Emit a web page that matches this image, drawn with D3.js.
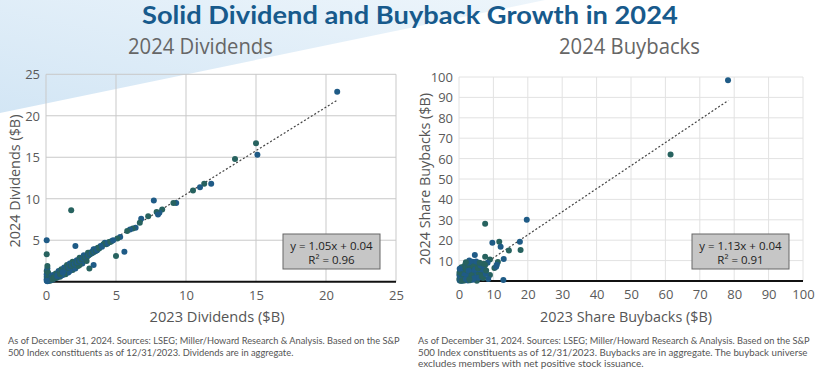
<!DOCTYPE html>
<html>
<head>
<meta charset="UTF-8">
<title>Solid Dividend and Buyback Growth in 2024</title>
<script src="https://d3js.org/d3.v7.min.js"></script>
<style>
  body { margin: 0; background: #fff; }
  text { font-family: "Open Sans", sans-serif; }
</style>
</head>
<body>
<div id="chart"></div>
<script>
// 2023 vs 2024 dividends, $B  [x = 2023, y = 2024]
var dividendPoints = [
  [20.8,22.9],[15.0,16.7],[15.1,15.3],[13.5,14.8],[11.8,11.8],[11.3,11.8],[11.0,11.4],[10.5,11.0],
  [9.3,9.5],[9.1,9.5],[7.7,9.8],[8.3,8.7],[8.1,8.3],[7.9,8.4],[8.0,8.1],[7.3,7.9],[6.8,7.6],[6.7,7.1],
  [6.4,6.5],[6.2,6.4],[6.0,6.3],[5.8,6.1],[5.3,5.4],[5.1,5.2],[4.7,4.9],[4.5,4.8],[4.2,4.7],[4.1,4.5],
  [3.9,4.3],[3.7,4.1],[3.6,3.8],[3.5,3.9],[3.3,3.6],[3.2,3.4],[3.1,3.5],[3.0,3.2],[2.9,3.1],[2.8,3.0],
  [2.7,2.8],[2.6,2.9],[2.5,2.6],[2.4,2.7],[2.3,2.5],[2.2,2.3],[2.1,2.4],[2.0,2.2],[1.9,2.1],[1.8,2.0],
  [1.7,1.8],[1.6,1.9],[1.5,1.6],[1.4,1.5],[1.3,1.5],[1.2,1.3],[1.1,1.2],[1.0,1.1],[0.9,1.0],[0.8,0.9],
  [0.7,0.8],[0.6,0.7],[0.5,0.6],[0.4,0.5],[0.3,0.3],[0.2,0.2],[0.1,0.1],
  [1.8,8.6],[0.05,5.0],[0.05,3.3],[2.1,4.3],[5.0,3.1],[5.6,3.6],[3.1,1.6],[3.4,2.0],
  [0.05,0.6],[0.05,0.9],[0.05,1.3],[0.1,1.6],[0.1,1.9],[0.05,0.3],[0.15,1.1],
  [0.4,0.2],[0.6,0.4],[0.8,0.5],[1.0,0.6],[1.2,0.8],[1.4,0.9],[1.6,1.1],[1.9,1.4],[2.1,1.6],[2.3,1.9],
  [2.6,2.2],[2.9,2.5],[0.9,0.7],[1.3,1.0],[1.7,1.3],[2.4,2.0],[0.5,0.3],[0.7,0.45],[1.1,0.75],
  [0.3,0.6],[0.5,0.8],[0.7,1.0],[0.9,1.3],[1.1,1.5],[1.3,1.7],[1.5,2.0],[1.7,2.2],[1.9,2.4],[2.2,2.6],
  [2.4,2.9],[2.7,3.2],[3.0,3.5],[3.4,3.9],[0.2,0.5],[0.4,0.7],
  [0.15,0.15],[0.25,0.35],[0.35,0.4],[0.45,0.45],[0.55,0.55],[0.65,0.7],[0.75,0.75],[0.85,0.85],
  [0.95,1.05],[1.05,1.1],[1.15,1.25],[1.25,1.3],[1.35,1.4],[1.45,1.55],[1.55,1.65],[1.65,1.75],
  [1.75,1.9],[1.85,2.0],[1.95,2.05],[2.05,2.15],[2.15,2.25],[2.25,2.35],[2.35,2.45],[2.45,2.55],
  [2.55,2.7],[2.65,2.8],[2.75,2.9],[2.85,3.0],[2.95,3.05],[3.05,3.2],[3.15,3.3],[3.25,3.4],
  [3.35,3.5],[3.45,3.6],[3.55,3.7],[3.65,3.8],[3.8,4.0],[4.0,4.2],[4.3,4.5],[4.4,4.6],[4.6,4.8],[4.8,5.0],
  [0.1,0.3],[0.2,0.1],[0.3,0.1],[0.1,0.05],[0.25,0.2],[0.35,0.25],[0.45,0.3],[0.05,0.1],
  [0.6,0.5],[0.8,0.7],[1.0,0.9],[1.2,1.1]
];

// 2023 vs 2024 share buybacks, $B
var buybackPoints = [
  [78.2,98.4],[61.5,62.0],[19.7,30.0],[7.6,28.1],[9.7,18.8],[11.7,19.3],[12.1,16.8],[14.5,14.9],
  [17.7,19.3],[17.9,15.2],[13.0,10.8],[11.3,9.3],[11.0,8.0],[10.3,6.4],[10.8,7.0],[9.0,10.6],
  [8.3,9.0],[7.6,11.9],[4.6,12.8],[9.0,2.9],[12.9,0.5],[5.2,0.1],[8.5,1.0],[7.0,1.5],
  [0.2,0.3],[0.5,1.2],[0.8,2.5],[1.0,0.5],[1.2,3.8],[1.5,1.8],[1.7,5.0],[2.0,2.9],[2.2,0.8],
  [2.4,4.4],[2.6,6.0],[2.8,2.2],[3.0,3.5],[3.2,5.2],[3.4,1.2],[3.6,7.0],[3.8,4.0],[4.0,2.6],
  [4.2,5.8],[4.4,8.6],[4.6,3.2],[4.8,6.4],[5.0,4.6],[5.2,7.4],[5.4,2.0],[5.6,5.4],[5.8,8.0],
  [6.0,3.8],[6.2,6.6],[6.5,5.0],[6.8,7.2],[7.0,4.2],[7.3,6.0],[7.6,7.8],[0.3,2.0],[0.6,3.4],
  [0.9,4.6],[1.1,6.2],[1.4,7.0],[1.8,8.0],[2.1,6.8],[2.5,7.6],[2.9,8.8],[3.3,6.4],[3.9,9.4],
  [4.3,7.2],[0.4,5.0],[0.7,6.8],[1.3,2.6],[1.9,4.0],[2.3,1.6],[2.7,3.6],[3.1,2.4],[3.5,4.8],
  [3.9,1.8],[4.1,3.6],[4.5,4.8],[4.9,2.8],[5.3,3.6],[5.7,4.2],[6.1,5.6],[6.4,3.0],[6.9,5.6],
  [0.1,1.0],[0.1,3.0],[0.15,4.2],[0.2,6.0],[0.5,0.1],[1.0,0.1],[1.6,0.2],[2.6,0.3],[3.2,0.4],
  [4.0,0.6],[0.9,1.6],[1.6,3.0],[2.2,5.4],[2.8,5.0],[3.6,2.8],[4.7,5.6],[5.5,6.2],[6.3,7.6],
  [7.2,8.4],[5.0,9.6],[6.0,9.0],[3.0,10.0],[2.0,9.2],[4.4,1.4],[1.2,1.0],[0.4,0.6],[0.8,0.3],
  [2.0,1.0],[3.0,0.9],[5.8,1.6],[6.6,2.2],[7.8,3.4],[7.9,5.2]
];

var dividendTicks = [0, 5, 10, 15, 20, 25];
var buybackTicks = [0, 10, 20, 30, 40, 50, 60, 70, 80, 90, 100];

// regression lines: [slope, intercept, r2, x end]
var dividendFit = [1.05, 0.04, 0.96, 20.8];
var buybackFit = [1.13, 0.04, 0.91, 78.3];

var title = "Solid Dividend and Buyback Growth in 2024";
var dividendNote = ["As of December 31, 2024. Sources: LSEG; Miller/Howard Research & Analysis. Based on the S&P",
                    "500 Index constituents as of 12/31/2023. Dividends are in aggregate."];
var buybackNote = ["As of December 31, 2024. Sources: LSEG; Miller/Howard Research & Analysis. Based on the S&P",
                   "500 Index constituents as of 12/31/2023. Buybacks are in aggregate. The buyback universe",
                   "excludes members with net positive stock issuance."];

var dotColors = ["#1f5b86", "#27625f"];

var svg = d3.select("#chart").append("svg")
    .attr("width", 820).attr("height", 371);

// light blue wedge in the top-left corner
var grad = svg.append("defs").append("linearGradient")
    .attr("id", "wedge").attr("x1", "0%").attr("y1", "100%").attr("x2", "100%").attr("y2", "0%");
grad.append("stop").attr("offset", "0%").attr("stop-color", "#d3e6f5");
grad.append("stop").attr("offset", "100%").attr("stop-color", "#edf5fb");
svg.append("polygon")
    .attr("points", "0,0 545,0 0,113")
    .attr("fill", "url(#wedge)");

// text squeezed horizontally to a given width (the original uses a condensed face)
function label(str, x, y, w, opts) {
    opts = opts || {};
    var t = svg.append("text")
        .attr("text-anchor", opts.anchor || "start")
        .style("font-family", opts.family || "'Open Sans', sans-serif")
        .style("font-size", opts.size + "px")
        .style("font-weight", opts.weight || "normal")
        .style("fill", opts.color || "#555")
        .text(str);
    var sx = w / t.node().getComputedTextLength();
    t.attr("transform", "translate(" + x + "," + y + ")" +
        (opts.rotate ? " rotate(" + opts.rotate + ")" : "") + " scale(" + sx + ",1)");
    return t;
}

label(title, 142, 24, 536, { size: 24, weight: "bold", color: "#175a8c", family: "Lato, sans-serif" });

function scatter(opt) {
    var x = d3.scaleLinear().domain(opt.domain).range(opt.xRange);
    var y = d3.scaleLinear().domain(opt.domain).range(opt.yRange);
    var g = svg.append("g");

    // grid
    g.selectAll(".gx").data(opt.ticks).enter().append("line")
        .attr("x1", function (d) { return x(d); }).attr("x2", function (d) { return x(d); })
        .attr("y1", y(opt.domain[0])).attr("y2", y(opt.domain[1]))
        .attr("stroke", opt.grid).attr("stroke-width", 1);
    g.selectAll(".gy").data(opt.ticks.slice(1)).enter().append("line")
        .attr("x1", x(opt.domain[0])).attr("x2", x(opt.domain[1]))
        .attr("y1", function (d) { return y(d); }).attr("y2", function (d) { return y(d); })
        .attr("stroke", opt.grid).attr("stroke-width", 1);

    // axes
    var xa = g.append("g").attr("transform", "translate(0," + (y(0) + 9) + ")")
        .call(d3.axisBottom(x).tickValues(opt.ticks).tickSize(0).tickPadding(0));
    var ya = g.append("g").attr("transform", "translate(" + (x(0) - 6) + ",0)")
        .call(d3.axisLeft(y).tickValues(opt.ticks.slice(1)).tickSize(0).tickPadding(0));
    [xa, ya].forEach(function (a) {
        a.select(".domain").remove();
        a.selectAll("text").style("font-family", "'Open Sans', sans-serif")
            .style("font-size", "13px").style("fill", "#5a5a5a");
    });
    ya.selectAll("text").attr("dy", "0.35em");

    g.append("line")
        .attr("x1", x(opt.domain[0])).attr("x2", x(opt.domain[1]))
        .attr("y1", y(0)).attr("y2", y(0))
        .attr("stroke", "#111").attr("stroke-width", 2);

    // trend line
    var f = opt.fitLine;
    g.append("line")
        .attr("x1", x(0)).attr("y1", y(f[1]))
        .attr("x2", x(f[3])).attr("y2", y(f[0] * f[3] + f[1]))
        .attr("stroke", "#444").attr("stroke-width", 1.2).attr("stroke-dasharray", "2,2");

    g.selectAll("circle").data(opt.points).enter().append("circle")
        .attr("cx", function (d) { return x(d[0]); })
        .attr("cy", function (d) { return y(d[1]); })
        .attr("r", 3)
        .attr("fill", function (d, i) { return dotColors[i % 2]; });

    // equation box
    var bx = opt.box[0], by = opt.box[1];
    g.append("rect").attr("x", bx).attr("y", by).attr("width", 97).attr("height", 35)
        .attr("fill", "#c6c6c6").attr("stroke", "#666").attr("stroke-width", 1);
    g.append("text").attr("x", bx + 48.5).attr("y", by + 16).attr("text-anchor", "middle")
        .style("font-size", "11.5px").style("fill", "#222")
        .text("y = " + f[0].toFixed(2) + "x + " + f[1].toFixed(2));
    g.append("text").attr("x", bx + 48.5).attr("y", by + 30).attr("text-anchor", "middle")
        .style("font-size", "11.5px").style("fill", "#222")
        .text("R\u00b2 = " + f[2].toFixed(2));

    // titles
    label(opt.subTitle, opt.sub[0], 54, opt.sub[1], { size: 21, color: "#666" });
    label(opt.xLabel, opt.xTitle[0], 322, opt.xTitle[1], { size: 15, anchor: "middle" });
    label(opt.yLabel, opt.yTitle[0], opt.yTitle[1], opt.yTitle[2], { size: 15, anchor: "middle", rotate: -90 });

    opt.note.forEach(function (line, i) {
        label(line, opt.noteX, 344 + i * 11.5, opt.noteW[i], { size: 9.5, family: "Lato, sans-serif" });
    });
}

scatter({
    domain: [0, 25], ticks: dividendTicks, points: dividendPoints, fitLine: dividendFit,
    xRange: [46, 396], yRange: [281.7, 74.3], grid: "#c9c9c9",
    box: [283, 234], sub: [128, 145], subTitle: "2024 Dividends",
    xLabel: "2023 Dividends ($B)", xTitle: [217, 135],
    yLabel: "2024 Dividends ($B)", yTitle: [20, 181, 133],
    note: dividendNote, noteX: 8, noteW: [392, 286]
});

scatter({
    domain: [0, 100], ticks: buybackTicks, points: buybackPoints, fitLine: buybackFit,
    xRange: [459, 803], yRange: [281, 77], grid: "#e2e2e2",
    box: [692, 234], sub: [559, 141], subTitle: "2024 Buybacks",
    xLabel: "2023 Share Buybacks ($B)", xTitle: [626, 172],
    yLabel: "2024 Share Buybacks ($B)", yTitle: [430, 179, 172],
    note: buybackNote, noteX: 418, noteW: [392, 390, 226]
});
</script>
</body>
</html>
